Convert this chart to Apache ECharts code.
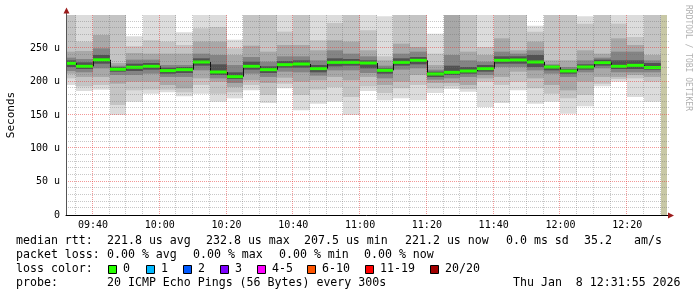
<!DOCTYPE html>
<html><head><meta charset="utf-8">
<script src="https://cdn.jsdelivr.net/npm/echarts@6/dist/echarts.min.js"></script>
<style>html,body{margin:0;padding:0;background:#fff}#c{width:697px;height:297px}</style>
</head><body><div id="c"></div>
<script>
// ---- data ----
const viewStart = '09:31:55';
const viewEnd = '12:31:55';
const unknownStart = '12:30';
const colMinutes = 5;
const colStart = ['09:30','09:35','09:40','09:45','09:50','09:55','10:00','10:05','10:10','10:15','10:20','10:25',
  '10:30','10:35','10:40','10:45','10:50','10:55','11:00','11:05','11:10','11:15','11:20','11:25',
  '11:30','11:35','11:40','11:45','11:50','11:55','12:00','12:05','12:10','12:15','12:20','12:25'];
const pingMax = [300,300,300,300,268,300,300,274,300,300,263,300,300,300,300,300,300,300,300,298,300,300,272,300,300,300,300,300,284,300,300,298,300,300,300,300];
const pingHi2 = [300,260,300,300,253,262,260,255,280,282,250,300,300,275,300,262,288,300,277,238,300,300,242,300,300,252,300,300,275,300,300,287,300,287,267,300];
const pingHi3 = [245,246,270,228,243,242,242,242,260,260,240,254,245,255,255,247,262,260,247,232,257,252,225,300,245,240,265,247,260,232,232,247,242,265,255,240];
const pingHi4 = [236,234,250,224,233,233,225,225,242,240,225,237,230,238,238,232,247,242,238,224,242,245,218,240,232,230,245,242,247,226,222,232,236,245,245,232];
const pingHi5 = [232,229,240,222,227,228,221,222,235,226,214,230,223,231,232,225,235,234,232,220,235,237,215,224,222,225,238,238,240,224,219,226,233,232,232,228];
const median  = [227.5,223,232.8,218.6,221.6,223,216.6,218,229.5,214.5,207.5,223,218,225.5,226.5,219.6,229,229,228,217,229,232,211.5,214,216,219.6,232,232.5,229.5,222,216,222,228.6,223,224.5,221.2];
const pingLo5 = [222,219,227,215,216,218,212,213,224,210,204,218,213,221,221,214,223,224,220,212,224,226,207,210,212,215,227,227,222,217,212,218,224,219,219,218];
const pingLo4 = [216,214,220,210,210,212,207,207,217,205,198,212,207,215,214,209,217,217,213,205,218,220,203,205,207,210,222,222,217,212,207,214,220,214,214,214];
const pingLo3 = [212,207,207,197,200,200,195,190,205,200,192,202,198,206,200,202,207,202,207,195,200,210,198,198,195,205,207,215,205,195,187,200,207,207,210,207];
const pingLo2 = [205,193,195,165,187,188,188,184,195,182,184,195,180,197,180,188,192,177,193,183,190,195,190,193,189,200,195,200,190,182,175,180,197,204,205,200];
const pingMin = [195,186,188,150,170,182,184,178,182,170,175,187,168,190,157,167,170,150,186,172,175,172,183,189,185,162,168,187,167,170,152,163,193,200,177,170];

const lossLabels = ['0','1','2','3','4-5','6-10','11-19','20/20'];
const lossColors = ['#26ff00','#00b8ff','#0059ff','#7e00ff','#ff00ff','#ff5500','#ff0000','#a10000'];
const line1 = [['median rtt:',16],['221.8 us avg',107],['232.8 us max',206],['207.5 us min',304],['221.2 us now',405],['0.0 ms sd',506],['35.2',584],['am/s',634]];
const line2 = [['packet loss:',16],['0.00 % avg',107],['0.00 % max',193],['0.00 % min',279],['0.00 % now',364]];
const lossX = [108,146,183,220,257,307,365,430];
const line4 = [['probe:',16],['20 ICMP Echo Pings (56 Bytes) every 300s',107],['Thu Jan  8 12:31:55 2026',513]];

// ---- helpers ----
function toMin(s){ const p = s.split(':').map(Number); return p[0]*60 + p[1] + (p[2]||0)/60; }
function fmt(v){ const h = Math.floor(v/60), m = Math.round(v - h*60); return String(h).padStart(2,'0')+':'+String(m).padStart(2,'0'); }
const xMin = toMin(viewStart), xMax = toMin(viewEnd);
const yMax = 300;
const bandColors = ['#dcdcdc','#c4c4c4','#a8a8a8','#848484','#525252'];
const FONT = 'DejaVu Sans Mono';
const minorColor = 'rgba(110,110,110,0.38)';
const majorColor = 'rgba(230,50,50,0.5)';

const smokeData = colStart.map((s,i)=>{
  const t = toMin(s);
  return [t, t+colMinutes, pingMin[i], pingLo2[i], pingLo3[i], pingLo4[i], pingLo5[i], median[i],
          pingHi5[i], pingHi4[i], pingHi3[i], pingHi2[i], pingMax[i]];
});

function renderSmoke(params, api){
  const i = params.dataIndex;
  const cs = params.coordSys;
  let x0 = Math.round(api.coord([api.value(0),0])[0]);
  let x1 = Math.round(api.coord([api.value(1),0])[0]);
  x0 = Math.max(x0, cs.x); x1 = Math.min(x1, cs.x + cs.width);
  const kids = [];
  for (let k=0;k<5;k++){
    const yLo = api.coord([api.value(0), api.value(2+k)])[1];
    const yHi = api.coord([api.value(0), api.value(12-k)])[1];
    kids.push({type:'rect', shape:{x:x0, y:yHi, width:x1-x0, height:yLo-yHi}, style:{fill:bandColors[k]}});
  }
  const ym = api.coord([api.value(0), api.value(7)])[1];
  if (i>0){
    const yp = api.coord([api.value(0), median[i-1]])[1];
    kids.push({type:'line', shape:{x1:x0+0.5,y1:yp,x2:x0+0.5,y2:ym}, style:{stroke:'#111',lineWidth:1}});
  }
  kids.push({type:'rect', shape:{x:x0, y:ym-1.5, width:x1-x0, height:3}, style:{fill:lossColors[0]}});
  return {type:'group', children:kids};
}
function renderUnknown(params, api){
  const cs = params.coordSys;
  const x0 = Math.round(api.coord([api.value(0),0])[0]);
  const yTop = api.coord([api.value(0),yMax])[1], yBot = api.coord([api.value(0),0])[1];
  return {type:'rect', shape:{x:x0, y:yTop, width:cs.x+cs.width-x0, height:yBot-yTop}, style:{fill:'#c8c8a6'}};
}
// dotted rrdtool-like grid drawn on top of the smoke, positioned through the axes
function renderGrid(params, api){
  const cs = params.coordSys;
  const L = cs.x, R = cs.x + cs.width, T = cs.y, B = cs.y + cs.height;
  const kids = [];
  function hline(v, c){ const y = Math.round(api.coord([xMin, v])[1]) - 0.5;
    kids.push({type:'line', shape:{x1:L, y1:y, x2:R+3, y2:y}, style:{stroke:c, lineWidth:1, lineDash:[1,1]}}); }
  function vline(v, c){ const x = Math.round(api.coord([v, 0])[0]) - 0.5;
    kids.push({type:'line', shape:{x1:x, y1:T, x2:x, y2:B}, style:{stroke:c, lineWidth:1, lineDash:[1,1]}}); }
  for (let v=10; v<yMax; v+=10) if (v % 50) hline(v, minorColor);
  for (let t=Math.ceil(xMin/5)*5; t<xMax; t+=5) if (t % 20) vline(t, minorColor);
  for (let v=50; v<yMax; v+=50) hline(v, majorColor);
  for (let t=Math.ceil(xMin/20)*20; t<xMax; t+=20) vline(t, majorColor);
  return {type:'group', children:kids};
}

const graphics = [];
function txt(t,x,y,size,color,extra){ graphics.push(Object.assign({type:'text', x:x, y:y, style:{text:t, font:size+'px "'+FONT+'"', fill:color||'#000', textAlign:'left', textVerticalAlign:'middle'}, z:20}, extra||{})); }
line1.forEach(s=>txt(s[0], s[1], 241, 11.6));
line2.forEach(s=>txt(s[0], s[1], 255, 11.6));
txt('loss color:', 16, 269, 11.6);
lossLabels.forEach((l,i)=>{
  graphics.push({type:'rect', shape:{x:lossX[i]+0.5, y:265.5, width:8, height:8}, style:{fill:lossColors[i], stroke:'#000', lineWidth:1}, z:20});
  txt(l, lossX[i]+15, 269, 11.6);
});
line4.forEach(s=>txt(s[0], s[1], 283, 11.6));
txt('RRDTOOL / TOBI OETIKER', 688, 5, 8, '#b0b0b0', {rotation:-Math.PI/2});
// axis arrows
graphics.push({type:'line', shape:{x1:66.5,y1:9,x2:66.5,y2:15}, style:{stroke:'#555',lineWidth:1}, z:20});
graphics.push({type:'polygon', shape:{points:[[63.5,13.5],[69.5,13.5],[66.5,7.5]]}, style:{fill:'#9c1c1c'}, z:21});
graphics.push({type:'line', shape:{x1:666,y1:215.5,x2:670,y2:215.5}, style:{stroke:'#000',lineWidth:1}, z:20});
graphics.push({type:'polygon', shape:{points:[[668,212.5],[668,218.5],[674,215.5]]}, style:{fill:'#9c1c1c'}, z:21});

const chart = echarts.init(document.getElementById('c'), null, {renderer:'canvas'});
chart.setOption({
  animation:false,
  backgroundColor:'#fff',
  grid:{left:66, right:30, top:15, bottom:82, containLabel:false, outerBoundsMode:'none'},
  xAxis:{type:'value', min:xMin, max:xMax, splitNumber:9, z:6,
     axisLine:{show:true, onZero:false, lineStyle:{color:'#000', width:1}},
     axisTick:{show:false},
     axisLabel:{show:true, formatter:fmt, showMinLabel:false, showMaxLabel:false, margin:5,
                color:'#000', fontFamily:FONT, fontSize:10},
     splitLine:{show:false}},
  yAxis:{type:'value', min:0, max:yMax, interval:50, z:6,
    name:'Seconds', nameLocation:'middle', nameRotate:90, nameGap:49,
    nameTextStyle:{fontFamily:FONT, fontSize:11, color:'#000'},
    axisLine:{show:true, lineStyle:{color:'#555', width:1}},
    axisTick:{show:false},
    axisLabel:{formatter:v=> v===0 ? '0' : v+' u', showMaxLabel:false, margin:6, color:'#000', fontFamily:FONT, fontSize:10},
    splitLine:{show:false}
  },
  series:[
    {type:'custom', name:'smoke', renderItem:renderSmoke, data:smokeData, clip:true, z:2,
     encode:{x:[0,1], y:[2,12]}},
    {type:'custom', name:'unknown', renderItem:renderUnknown, data:[[toMin(unknownStart)]], clip:true, z:2,
     encode:{x:0}},
    {type:'custom', name:'grid', renderItem:renderGrid, data:[[xMin]], z:3, silent:true, encode:{x:0}}
  ],
  graphic:graphics
});
</script></body></html>
